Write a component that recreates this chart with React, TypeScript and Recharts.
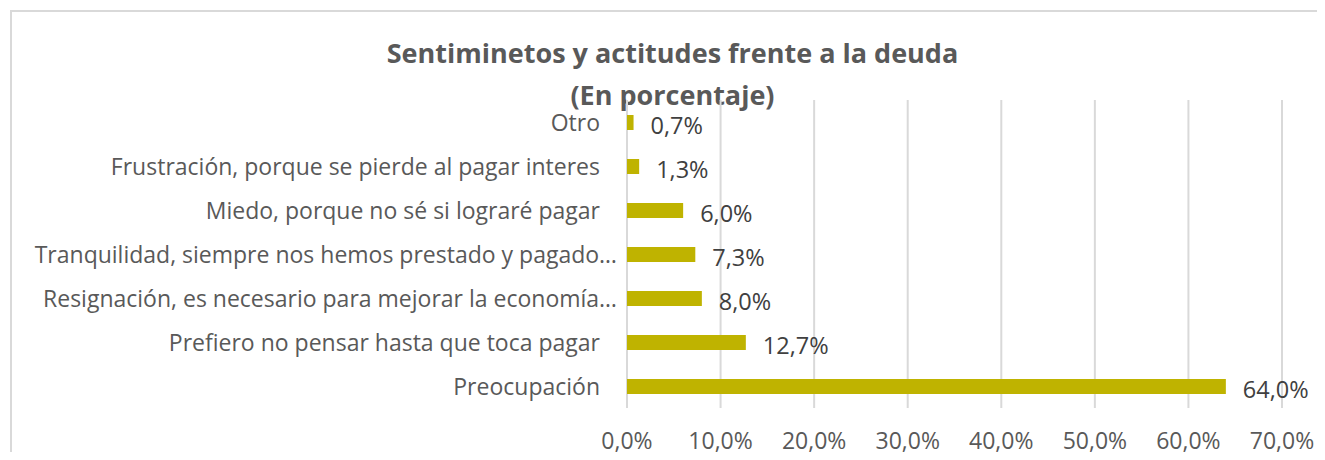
import { BarChart, Bar, XAxis, YAxis, CartesianGrid, LabelList } from 'recharts';

const CATEGORIES = [
  'Otro',
  'Frustración, porque se pierde al pagar interes',
  'Miedo, porque no sé si lograré pagar',
  'Tranquilidad, siempre nos hemos prestado y pagado…',
  'Resignación, es necesario para mejorar la economía…',
  'Prefiero no pensar hasta que toca pagar',
  'Preocupación',
];
const VALUES = [0.7, 1.3, 6.0, 7.3, 8.0, 12.7, 64.0];
const X_TICKS = [0, 10, 20, 30, 40, 50, 60, 70];

const BAR_COLOR = '#bfb300';
const GRID_COLOR = '#d9d9d9';
const TEXT_GRAY = '#595959';
const FONT = '"Open Sans", sans-serif';

const data = CATEGORIES.map((name, i) => ({ name, value: VALUES[i] }));

const pct = (v: number) => v.toFixed(1).replace('.', ',') + '%';

function ValueLabel(props: any) {
  const { x, y, width, height, value } = props;
  return (
    <text
      x={Number(x) + Number(width) + 17}
      y={Number(y) + Number(height) / 2 + 5}
      fill="#404040"
      fontSize={23.5}
      fontFamily={FONT}
      dominantBaseline="middle"
    >
      {pct(Number(value))}
    </text>
  );
}

// Excel lets truncated labels ("…") run a bit closer to the axis
function CategoryTick(props: any) {
  const { x, y, payload } = props;
  const label = String(payload.value);
  const shift = label.endsWith('…') ? 17 : 0;
  return (
    <text
      x={Number(x) + shift}
      y={Number(y) + 1}
      dy="0.355em"
      textAnchor="end"
      fill={TEXT_GRAY}
      fontSize={23}
      fontFamily={FONT}
    >
      {label}
    </text>
  );
}

export default function App() {
  return (
    <div style={{ position: 'relative', width: 1325, height: 460, margin: -8, overflow: 'hidden', background: '#fff', fontFamily: FONT }}>
      <div
        style={{
          position: 'absolute',
          left: 10,
          top: 10,
          width: 1325,
          height: 460,
          border: `2px solid ${GRID_COLOR}`,
          boxSizing: 'border-box',
        }}
      />
      <div
        style={{
          position: 'absolute',
          left: 10,
          width: 1325,
          top: 32,
          textAlign: 'center',
          color: TEXT_GRAY,
          fontWeight: 700,
          fontSize: 27,
          lineHeight: '42px',
        }}
      >
        Sentiminetos y actitudes frente a la deuda
        <br />
        (En porcentaje)
      </div>
      <div style={{ position: 'absolute', left: 0, top: 0 }}>
        <BarChart
          width={1325}
          height={460}
          data={data}
          layout="vertical"
          margin={{ top: 100, right: 43, bottom: 0, left: 0 }}
          barCategoryGap={0}
        >
          <CartesianGrid horizontal={false} stroke={GRID_COLOR} strokeWidth={2} />
          <XAxis
            type="number"
            domain={[0, 70]}
            ticks={X_TICKS}
            tickFormatter={pct}
            axisLine={false}
            tickLine={false}
            tickSize={0}
            tickMargin={25}
            height={52}
            interval={0}
            tick={{ fill: TEXT_GRAY, fontSize: 23, fontFamily: FONT }}
          />
          <YAxis
            type="category"
            dataKey="name"
            width={627}
            axisLine={false}
            tickLine={false}
            tickSize={0}
            tickMargin={27}
            interval={0}
            tick={<CategoryTick />}
          />
          <Bar dataKey="value" fill={BAR_COLOR} barSize={15} isAnimationActive={false}>
            <LabelList dataKey="value" content={<ValueLabel />} />
          </Bar>
        </BarChart>
      </div>
    </div>
  );
}
